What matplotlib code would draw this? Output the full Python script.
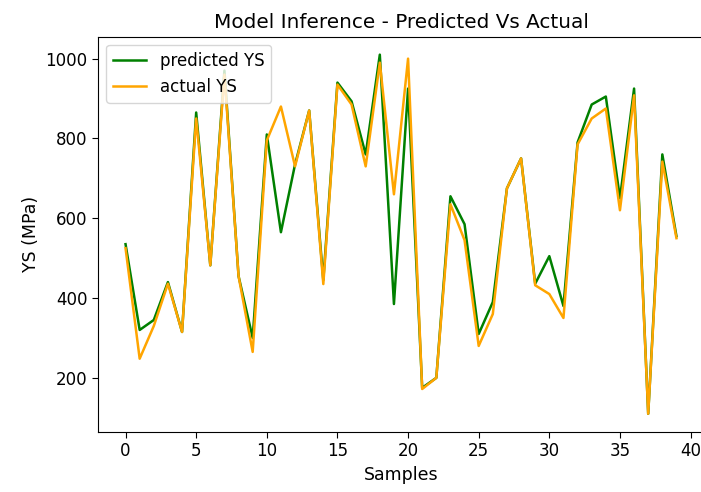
import numpy as np
import matplotlib
matplotlib.use("Agg")
import matplotlib.pyplot as plt

# values
samples = np.arange(40)
predicted_ys = [535, 320, 345, 440, 315, 865, 482, 970, 455, 300,
                810, 565, 735, 870, 445, 940, 893, 760, 1010, 385,
                925, 175, 200, 655, 585, 310, 390, 675, 750, 436,
                505, 380, 790, 885, 905, 650, 925, 110, 760, 555]
actual_ys = [525, 248, 330, 436, 315, 850, 482, 960, 455, 265,
             795, 880, 730, 870, 435, 935, 885, 730, 990, 660,
             1000, 172, 200, 635, 545, 280, 360, 675, 750, 432,
             410, 350, 785, 850, 875, 620, 908, 110, 742, 550]

plt.rcParams['font.size'] = 12
plt.rcParams['xtick.major.size'] = 4.2
plt.rcParams['ytick.major.size'] = 4.2

fig = plt.figure(figsize=(7.01, 4.92), dpi=100)
ax = fig.add_axes([98 / 701, 1 - 431.7 / 492, 606 / 701, (431.7 - 36.7) / 492])

ax.plot(samples, predicted_ys, color='green', lw=1.8, label='predicted YS')
ax.plot(samples, actual_ys, color='orange', lw=1.8, label='actual YS')

ax.set_title('Model Inference - Predicted Vs Actual', fontsize=14.4)
ax.set_xlabel('Samples', fontsize=12.5)
ax.set_ylabel('YS (MPa)', fontsize=12.5)
ax.set_xticks(range(0, 41, 5))
ax.legend(loc='upper left')

fig.savefig('out.png', dpi=100)
